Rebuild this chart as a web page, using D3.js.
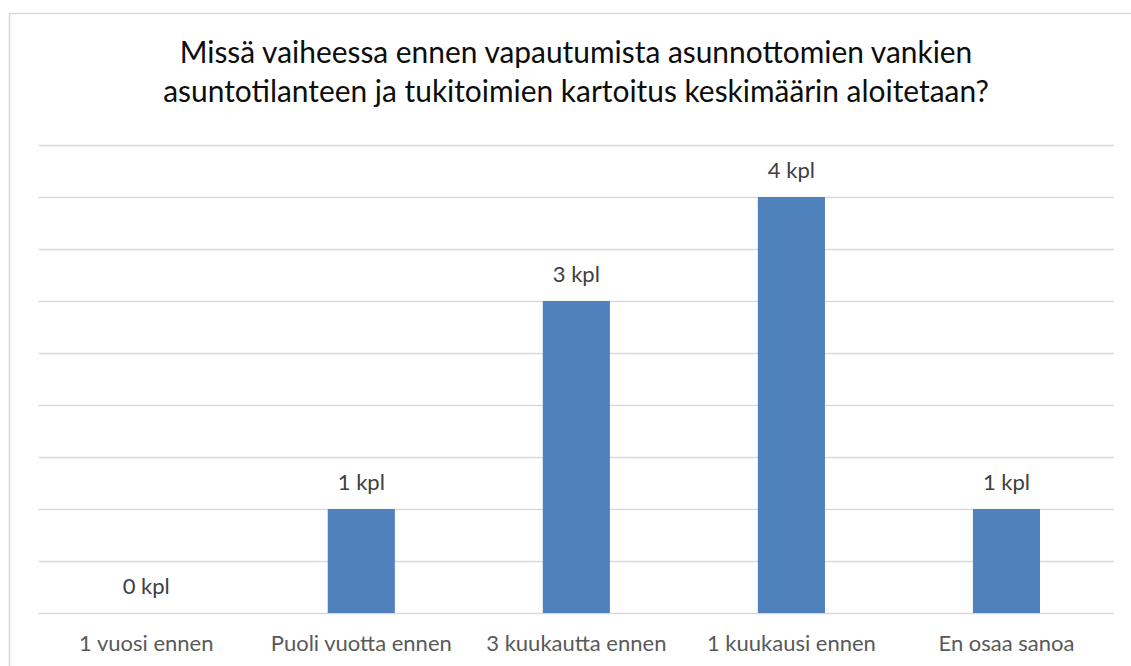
<!DOCTYPE html>
<html>
<head>
<meta charset="utf-8">
<script src="https://cdn.jsdelivr.net/npm/d3@7"></script>
<style>
  html, body { margin: 0; padding: 0; background: #fff; }
  svg { display: block; }
</style>
</head>
<body>
<div id="chart"></div>
<script>
const categories = ['1 vuosi ennen', 'Puoli vuotta ennen', '3 kuukautta ennen', '1 kuukausi ennen', 'En osaa sanoa'];
const counts = [0, 1, 3, 4, 1];
const gridTicks = [0, 0.5, 1, 1.5, 2, 2.5, 3, 3.5, 4, 4.5];
const titleLines = [
  'Missä vaiheessa ennen vapautumista asunnottomien vankien',
  'asuntotilanteen ja tukitoimien kartoitus keskimäärin aloitetaan?'
];

const W = 1131, H = 666;
const font = 'Lato, "Open Sans", sans-serif';

const svg = d3.select('#chart').append('svg')
  .attr('width', W)
  .attr('height', H);

// outer chart frame (runs off the right and bottom edges)
svg.append('rect')
  .attr('x', 9.5).attr('y', 13.5)
  .attr('width', 1140).attr('height', 700)
  .attr('fill', '#fff')
  .attr('stroke', '#d9d9d9')
  .attr('stroke-width', 1.5);

const x = d3.scaleBand()
  .domain(categories)
  .range([38.7, 1114]);

const y = d3.scaleLinear()
  .domain([0, 4.5])
  .range([613, 145]);

const barW = x.bandwidth() * 0.312;

// gridlines
svg.append('g')
  .selectAll('line')
  .data(gridTicks)
  .join('line')
    .attr('x1', 38.7)
    .attr('x2', 1114)
    .attr('y1', (d) => Math.round(y(d)) + 0.5)
    .attr('y2', (d) => Math.round(y(d)) + 0.5)
    .attr('stroke', '#d9d9d9')
    .attr('stroke-width', 1.3);

// bars
svg.append('g')
  .selectAll('rect')
  .data(counts)
  .join('rect')
    .attr('x', (d, i) => x(categories[i]) + x.bandwidth() / 2 - barW / 2)
    .attr('y', (d) => y(d))
    .attr('width', barW)
    .attr('height', (d) => y(0) - y(d))
    .attr('fill', '#4f81bd');

// value labels
svg.append('g')
  .selectAll('text')
  .data(counts)
  .join('text')
    .attr('x', (d, i) => x(categories[i]) + x.bandwidth() / 2)
    .attr('y', (d) => y(d) - 19)
    .attr('text-anchor', 'middle')
    .attr('font-family', font)
    .attr('font-size', 22)
    .attr('fill', '#404040')
    .text((d) => `${d} kpl`);

// x axis labels
const xAxis = svg.append('g')
  .attr('transform', `translate(0, ${y(0)})`)
  .call(d3.axisBottom(x).tickSize(0).tickPadding(0));
xAxis.select('.domain').remove();
xAxis.selectAll('text')
  .attr('dy', null)
  .attr('y', 38)
  .attr('font-family', font)
  .attr('font-size', 22)
  .attr('fill', '#595959');

// title
svg.append('text')
  .attr('x', 576)
  .attr('y', 63)
  .attr('text-anchor', 'middle')
  .attr('font-family', font)
  .attr('font-size', 29.9)
  .attr('fill', '#0d0d0d')
  .selectAll('tspan')
  .data(titleLines)
  .join('tspan')
    .attr('x', 576)
    .attr('dy', (d, i) => i === 0 ? 0 : 38.5)
    .text((d) => d);
</script>
</body>
</html>
